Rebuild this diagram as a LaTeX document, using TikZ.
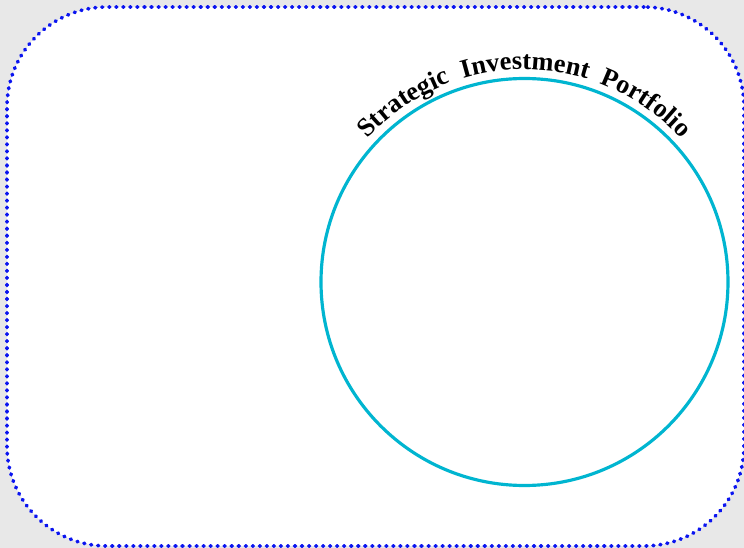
\documentclass[tikz,border=0pt]{standalone}
\usepackage{fontspec}
\setmainfont{Liberation Serif}
\usetikzlibrary{decorations.text}
\definecolor{pagegray}{HTML}{E8E8E8}
\definecolor{frameblue}{HTML}{0A14F0}
\definecolor{ringcyan}{HTML}{00B5D0}
\begin{document}
\begin{tikzpicture}[every node/.style={font=\bfseries}]
\useasboundingbox (0,0) rectangle (14.88,10.96);
\fill[pagegray] (0,0) rectangle (14.88,10.96);
\node[draw=frameblue, fill=white, line width=2.1pt, dash pattern=on 0.5pt off 3.5pt, line cap=round,
  rounded corners=2cm, minimum width=14.74cm, minimum height=10.78cm, inner sep=0pt] (frame) at (7.51,5.43) {};
\node[draw=ringcyan, line width=1.8pt, circle, minimum size=8.14cm, inner sep=0pt] (ring) at (10.49,5.32) {};
\path[decorate, decoration={text along path, text align=center,
  text={|\bfseries\fontsize{15}{15}\selectfont|Strategic{ }{ }Investment{ }{ }Portfolio}}]
  (ring.center) ++(180:4.25) arc[start angle=180, end angle=0, radius=4.25];
\end{tikzpicture}
\end{document}
